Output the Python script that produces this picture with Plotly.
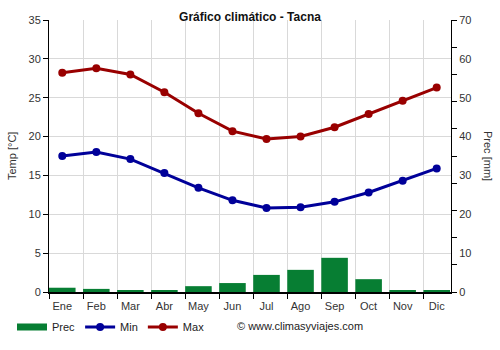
import plotly.graph_objects as go

# Monthly climate data for Tacna
months = ["Ene", "Feb", "Mar", "Abr", "May", "Jun", "Jul", "Ago", "Sep", "Oct", "Nov", "Dic"]
prec = [1.1, 0.8, 0.35, 0.5, 1.5, 2.3, 4.4, 5.7, 8.8, 3.3, 0.5, 0.5]
tmin = [17.5, 18.0, 17.1, 15.3, 13.4, 11.8, 10.8, 10.9, 11.6, 12.8, 14.3, 15.9]
tmax = [28.2, 28.8, 28.0, 25.7, 23.0, 20.7, 19.7, 20.0, 21.2, 22.9, 24.6, 26.3]

temp_ticks = list(range(0, 36, 5))
prec_labels = list(range(0, 71, 10))
prec_marks = list(range(0, 71, 7))
pos = list(range(len(months)))

FONT = "Liberation Sans, Arial, sans-serif"
GRID = "#d9d9d9"
TXT = "#333333"
GREEN = "#077e33"
BLUE = "#000099"
RED = "#990000"
CLEAR = "rgba(0,0,0,0)"

fig = go.Figure()

fig.add_trace(go.Bar(
    x=pos, y=prec, name="Prec", yaxis="y2", showlegend=False,
    marker=dict(color=GREEN, line=dict(width=0)), width=0.78,
))
# legend swatch for the precipitation bars
fig.add_trace(go.Scatter(
    x=[None], y=[None], name="Prec", mode="lines", yaxis="y2",
    line=dict(color=GREEN, width=7), hoverinfo="skip",
))
fig.add_trace(go.Scatter(
    x=pos, y=tmin, name="Min", mode="lines+markers",
    line=dict(color=BLUE, width=3), marker=dict(size=8, color=BLUE),
))
fig.add_trace(go.Scatter(
    x=pos, y=tmax, name="Max", mode="lines+markers",
    line=dict(color=RED, width=3), marker=dict(size=8, color=RED),
))
# carrier trace for the tick-mark-only right axis
fig.add_trace(go.Scatter(
    x=[0], y=[None], yaxis="y3", showlegend=False, hoverinfo="skip",
))

fig.update_layout(
    width=500, height=350,
    margin=dict(l=49, r=49, t=20, b=58, autoexpand=False),
    paper_bgcolor="white", plot_bgcolor="white",
    font=dict(family=FONT, size=11, color=TXT),
    title=dict(text="<b>Gráfico climático - Tacna</b>", x=0.5, xanchor="center",
               y=1 - 17 / 350, yanchor="middle",
               font=dict(family=FONT, size=12, color="#111111")),
    xaxis=dict(
        range=[-0.39, 11.42], tickvals=pos, ticktext=months, automargin=False,
        showgrid=False, zeroline=False,
        ticks="outside", ticklen=0, tickcolor=CLEAR, ticklabelstandoff=3,
        minor=dict(tick0=-0.39, dtick=1, showgrid=True, gridcolor=GRID, gridwidth=1,
                   ticks="outside", ticklen=5, tickcolor="black", tickwidth=1),
        showline=True, linecolor="black", linewidth=2,
        tickfont=dict(size=11, color=TXT),
    ),
    yaxis=dict(
        range=[0, 35], tickvals=temp_ticks, automargin=False,
        showgrid=True, gridcolor=GRID, gridwidth=1, zeroline=False,
        ticks="outside", ticklen=5, tickcolor="black",
        showline=True, linecolor="black", linewidth=1,
        tickfont=dict(size=11, color=TXT),
    ),
    yaxis2=dict(
        overlaying="y", side="right", range=[0, 70], tickvals=prec_labels,
        showgrid=False, zeroline=False, automargin=False,
        ticks="outside", ticklen=5, tickcolor=CLEAR,
        showline=True, linecolor="black", linewidth=1,
        tickfont=dict(size=11, color=TXT),
    ),
    yaxis3=dict(
        overlaying="y", side="right", range=[0, 70], tickvals=prec_marks,
        showgrid=False, zeroline=False, showticklabels=False, automargin=False,
        ticks="outside", ticklen=5, tickcolor="black", showline=False,
    ),
    legend=dict(
        orientation="h", x=(12 - 49) / 402, xanchor="left",
        y=(292 - 327) / 272, yanchor="middle",
        font=dict(size=11, color="#222222"), bgcolor=CLEAR,
        itemwidth=30,
    ),
    annotations=[
        dict(text="Temp [°C]", textangle=-90, xref="paper", yref="paper",
             x=(12 - 49) / 402, y=0.5, xanchor="center", yanchor="middle",
             showarrow=False, font=dict(size=11, color=TXT)),
        dict(text="Prec [mm]", textangle=90, xref="paper", yref="paper",
             x=(488 - 49) / 402, y=0.5, xanchor="center", yanchor="middle",
             showarrow=False, font=dict(size=11, color=TXT)),
        dict(text="© www.climasyviajes.com", xref="paper", yref="paper",
             x=(300 - 49) / 402, y=(292 - 326) / 272, xanchor="center", yanchor="middle",
             showarrow=False, font=dict(size=11, color="#222222")),
    ],
)

fig.write_html("out.html")
